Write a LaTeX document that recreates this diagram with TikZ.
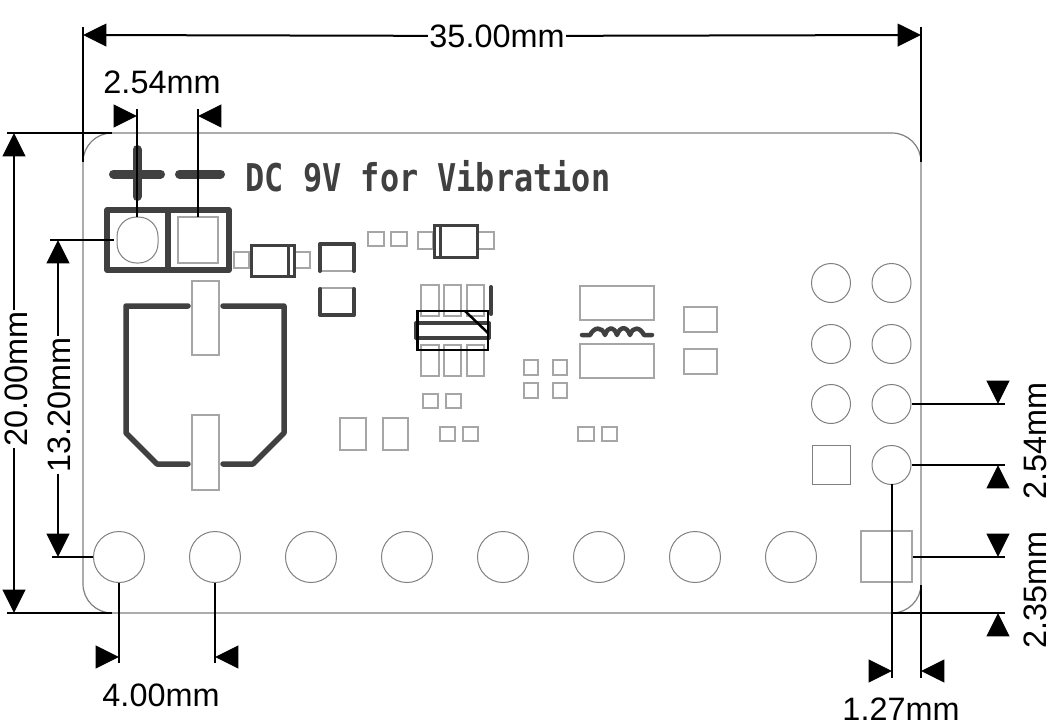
\documentclass[tikz,border=0pt]{standalone}
\usepackage{fontspec}
\setmainfont{Liberation Sans}
\newfontfamily\silkfont{DejaVu Sans Mono}
\usetikzlibrary{arrows.meta}
\definecolor{silk}{HTML}{404040}
\definecolor{padgray}{HTML}{A6A6A6}
\definecolor{edgegray}{HTML}{808080}
\tikzset{
  px/.style={line width=#1*0.75pt},
  boardedge/.style={draw=edgegray,px=1.2},
  padbox/.style={draw=padgray,px=1.5},
  hole/.style={draw=edgegray,px=1},
  silkline/.style={draw=silk,px=5.5,line cap=round,line join=round},
  silkthin/.style={draw=silk,px=3,line join=miter},
  extline/.style={draw=black,px=2},
  dimtip/.style={draw=black,px=2,-{Triangle[length=17.5pt,width=17pt]}},
  dimlabel/.style={font=\fontsize{24.3pt}{26pt}\selectfont,inner sep=1pt,text=black},
}
\begin{document}
\begin{tikzpicture}[x=0.75pt,y=-0.75pt]
\useasboundingbox (0,0) rectangle (1054,728);
% board outline
\draw[boardedge] (112,133) -- (892,133) arc[start angle=90,end angle=0,radius=29*0.75pt] -- (921,584)
  arc[start angle=0,end angle=-90,radius=29*0.75pt] -- (112,613)
  arc[start angle=270,end angle=180,radius=29*0.75pt] -- (83,162)
  arc[start angle=180,end angle=90,radius=29*0.75pt] -- cycle;
% silk text
\node[text=silk,inner sep=0pt,anchor=west,yscale=1.2] (silktext) at (245.5,176)
  {\silkfont\bfseries\fontsize{23.9pt}{26pt}\selectfont DC 9V for Vibration};
% polarity
\draw[silkline,px=9] (113.5,174) -- (160.5,174);
\draw[silkline,px=9] (137,149.5) -- (137,196.5);
\draw[silkline,px=9] (179.5,174) -- (220.5,174);
% connector
\draw[draw=silk,px=5.5,line join=round] (107,210) rectangle (229,270);
\draw[draw=silk,px=5.5] (168,210) -- (168,270);
\draw[hole,rounded corners=19.5*0.75pt] (117,217) rectangle (158,263);
\draw[padbox] (178,217) rectangle (218,263);
% diode 1
\draw[padbox] (234,252) rectangle (249,268);
\draw[padbox] (295,252) rectangle (310,268);
\draw[silkthin] (251,245) rectangle (294,276);
\draw[silkthin] (288,245) -- (288,276);
% caps
\draw[padbox] (320,271) -- (354,271);
\draw[padbox] (320,288) -- (354,288);
\draw[silkline,px=4] (320,271) -- (320,244) -- (354,244) -- (354,271);
\draw[silkline,px=4] (320,289) -- (320,315) -- (354,315) -- (354,289);
% small pads row
\draw[padbox] (368,232) rectangle (384,246);
\draw[padbox] (391,232) rectangle (407,246);
% diode 2
\draw[padbox] (418,232) rectangle (433,249);
\draw[padbox] (478,232) rectangle (494,249);
\draw[silkthin] (434,225) rectangle (477,257);
\draw[silkthin] (440,225) -- (440,257);
% IC
\foreach \x/\w in {421/439,444/461,467/484}{
  \draw[padbox] (\x,285) rectangle (\w,316);
  \draw[padbox] (\x,345) rectangle (\w,376);
}
\draw[silkline,px=4] (491,287) -- (491,314);
\draw[silkline,px=4,line cap=butt] (417,323) -- (488,323);
\draw[silkline,px=4,line cap=butt] (417,338) -- (488,338);
\draw[silkline,px=4] (416,323) -- (416,338);
\draw[silkline,px=4] (489,323) -- (489,338);
\draw[black,px=2.5] (417.5,311) rectangle (488,350);
\draw[black,px=2.5] (465,311) -- (488,333);
% inductor
\draw[padbox] (580,286) rectangle (654,320);
\draw[padbox] (580,344) rectangle (654,378);
\draw[silkline,px=4.5] (582,335) -- (590,335) .. controls (594,327) and (602,326) .. (605,335)
  .. controls (608,326) and (614,326) .. (617,335)
  .. controls (620,326) and (627,326) .. (630,335)
  .. controls (633,326) and (640,327) .. (644,335) -- (652,335);
% misc pads
\draw[padbox] (684,307) rectangle (717,332);
\draw[padbox] (684,349) rectangle (717,374);
\foreach \x/\w in {524/538,553/567}{
  \draw[padbox] (\x,360) rectangle (\w,375);
  \draw[padbox] (\x,383) rectangle (\w,398);
}
\draw[padbox] (578,427) rectangle (594,441);
\draw[padbox] (602,427) rectangle (617,441);
\draw[padbox] (440,427) rectangle (455,441);
\draw[padbox] (463,427) rectangle (478,441);
\draw[padbox] (423,394) rectangle (438,408);
\draw[padbox] (446,394) rectangle (461,408);
\draw[padbox] (340,418) rectangle (366,450);
\draw[padbox] (383,418) rectangle (408,450);
% battery holder
\draw[silkline] (188,306) -- (126,306) -- (126,433) -- (157,464) -- (188,464);
\draw[silkline] (223,306) -- (284,306) -- (284,433) -- (253,464) -- (223,464);
\draw[padbox] (192,281) rectangle (219,355);
\draw[padbox] (192,415) rectangle (219,490);
% bottom holes
\foreach \x in {119,215,311,407,503,599,695,791}{
  \draw[hole] (\x,557) circle[radius=25.5*0.75pt];
}
\draw[padbox] (861,531) rectangle (912,582);
% right header
\foreach \y in {283,344,404}{
  \draw[hole] (831,\y) circle[radius=19.5*0.75pt];
}
\foreach \y in {283,344,404,465}{
  \draw[hole] (891.5,\y) circle[radius=19.5*0.75pt];
}
\draw[hole] (812,445) rectangle (850,484);
% extension lines
\draw[extline] (83,27) -- (83,162);
\draw[extline] (921,27) -- (921,162);
\draw[extline] (7,133) -- (112,133);
\draw[extline] (7,613) -- (112,613);
\draw[extline] (50,240) -- (114,240);
\draw[extline] (52,557) -- (93,557);
\draw[extline] (137,109) -- (137,217);
\draw[extline] (198,109) -- (198,217);
\draw[extline] (119,583) -- (119,663);
\draw[extline] (215,583) -- (215,663);
\draw[extline] (892,484) -- (892,678);
\draw[extline] (921,585) -- (921,678);
\draw[extline] (912,404) -- (1005,404);
\draw[extline] (912,465) -- (1005,465);
\draw[extline] (913,557) -- (1005,557);
\draw[extline] (892,613) -- (1005,613);
% dimensions
\coordinate (a35l) at (83,35);
\coordinate (a35r) at (921,35);
\node[dimlabel] (d35) at (497,36) {35.00mm};
\draw[dimtip] (d35) -- (a35l);
\draw[dimtip] (d35) -- (a35r);
\coordinate (a20t) at (14,133);
\coordinate (a20b) at (14,613);
\node[dimlabel,rotate=90] (d20) at (16,379) {20.00mm};
\draw[dimtip] (a20t |- d20.east) -- (a20t);
\draw[dimtip] (a20b |- d20.west) -- (a20b);
\coordinate (a13t) at (58,240);
\coordinate (a13b) at (58,557);
\node[dimlabel,rotate=90] (d13) at (59,405) {13.20mm};
\draw[dimtip] (a13t |- d13.east) -- (a13t);
\draw[dimtip] (a13b |- d13.west) -- (a13b);
\node[dimlabel] (d254t) at (162,82) {2.54mm};
\coordinate (t1a) at (115,116); \coordinate (t1b) at (137,116);
\coordinate (t2a) at (220,116); \coordinate (t2b) at (198,116);
\draw[dimtip] (t1a) -- (t1b);
\draw[dimtip] (t2a) -- (t2b);
\node[dimlabel] (d400) at (161,695) {4.00mm};
\coordinate (f1a) at (97,657); \coordinate (f1b) at (119,657);
\coordinate (f2a) at (237,657); \coordinate (f2b) at (215,657);
\draw[dimtip] (f1a) -- (f1b);
\draw[dimtip] (f2a) -- (f2b);
\node[dimlabel] (d127) at (901,709) {1.27mm};
\coordinate (g1a) at (870,671); \coordinate (g1b) at (892,671);
\coordinate (g2a) at (943,671); \coordinate (g2b) at (921,671);
\draw[dimtip] (g1a) -- (g1b);
\draw[dimtip] (g2a) -- (g2b);
\node[dimlabel,rotate=90] (d254r) at (1035,441) {2.54mm};
\coordinate (h1a) at (998,382); \coordinate (h1b) at (998,404);
\coordinate (h2a) at (998,486); \coordinate (h2b) at (998,465);
\draw[dimtip] (h1a) -- (h1b);
\draw[dimtip] (h2a) -- (h2b);
\node[dimlabel,rotate=90] (d235) at (1035,590) {2.35mm};
\coordinate (i1a) at (998,535); \coordinate (i1b) at (998,557);
\coordinate (i2a) at (998,634); \coordinate (i2b) at (998,613);
\draw[dimtip] (i1a) -- (i1b);
\draw[dimtip] (i2a) -- (i2b);
\end{tikzpicture}
\end{document}
